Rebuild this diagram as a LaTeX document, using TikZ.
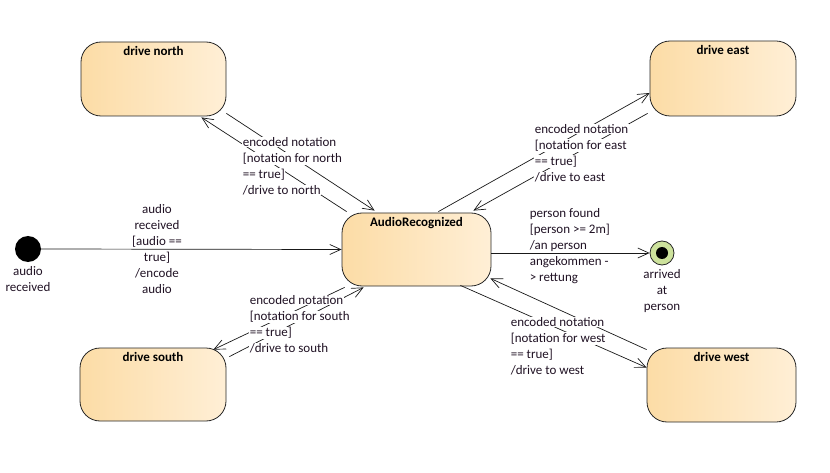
\documentclass[tikz,border=0pt]{standalone}
\usepackage{fontspec}
\setmainfont{Carlito}
\usetikzlibrary{arrows.meta}
\definecolor{stateL}{RGB}{252,220,166}
\definecolor{stateR}{RGB}{255,239,214}
\definecolor{finalfill}{RGB}{205,226,156}
\definecolor{ink}{RGB}{32,18,36}
% white backing behind each line of a transition text
\newcommand\wbox[1]{{\setlength\fboxsep{0.6pt}\colorbox{white}{#1}}}
\begin{document}
\begin{tikzpicture}[x=1pt,y=-1pt,
  txt/.style={font=\fontsize{13}{16}\selectfont, text=ink, inner sep=0},
  state/.style={draw=black!85, line width=0.8pt, rounded corners=20pt,
    left color=stateL, right color=stateR, inner sep=0},
  title/.style={anchor=base, font=\fontsize{13}{16}\selectfont\bfseries, inner sep=0},
  guard/.style={txt, align=left, anchor=west},
  trans/.style={draw=black!90, line width=0.7pt,
    -{Straight Barb[length=11pt,width=10pt]}}]
\useasboundingbox (0,0) rectangle (830,473);

% states
\node[state, minimum width=145pt, minimum height=74pt] (north) at (153.5,79) {};
\node[state, minimum width=146pt, minimum height=75pt] (east)  at (723,78.5) {};
\node[state, minimum width=149pt, minimum height=73pt] (ar)    at (416.5,249.5) {};
\node[state, minimum width=146pt, minimum height=73pt] (south) at (153,384.5) {};
\node[state, minimum width=149pt, minimum height=74pt] (west)  at (721.5,385) {};

\node[title] (tnorth) at ([yshift=-14pt]north.north) {drive north};
\node[title] (teast)  at ([yshift=-14pt]east.north)  {drive east};
\node[title] (tar)    at ([yshift=-14pt]ar.north)    {AudioRecognized};
\node[title] (tsouth) at ([yshift=-14pt]south.north) {drive south};
\node[title] (twest)  at ([yshift=-14pt]west.north)  {drive west};

% pseudo states
\node[circle, fill=black, minimum size=26pt, inner sep=0] (init) at (28,249) {};
\node[circle, draw=black!85, line width=0.8pt, fill=finalfill, minimum size=24pt, inner sep=0] (final) at (662,253) {};
\node[circle, fill=black, minimum size=12pt, inner sep=0] (finaldot) at (final.center) {};

\node[txt, align=center] (initlbl)  at (28,279)  {audio\\received};
\node[txt, align=center] (finallbl) at (662,291) {arrived\\at\\person};

% transitions
\draw[trans] (init.east) -- (ar.west);
\draw[trans] ([shift={(0,3.5)}]ar.east) -- (final.west);

\draw[trans] ([shift={(5,-1)}]ar.north west) -- ([shift={(-25,1)}]north.south east);
\draw[trans] ([shift={(0,-3)}]north.south east) -- ([shift={(33,-2)}]ar.north west);

\draw[trans] ([shift={(-53,-1)}]ar.north east) -- ([shift={(0,14.5)}]east.west);
\draw[trans] ([shift={(-2,-3)}]east.south west) -- ([shift={(-18,-2)}]ar.north east);

\draw[trans] ([shift={(3,1)}]ar.south west) -- ([shift={(-13,2)}]south.north east);
\draw[trans] ([shift={(3,9)}]south.north east) -- ([shift={(22,1)}]ar.south west);

\draw[trans] ([shift={(0,2)}]west.north west) -- ([shift={(-1,-8)}]ar.south east);
\draw[trans] ([shift={(-31,-1)}]ar.south east) -- ([shift={(0,20)}]west.north west);

% transition texts
\node[txt, align=center] (ginit) at (157,249.5)
  {\wbox{audio}\\\wbox{received}\\\wbox{[audio ==}\\\wbox{true]}\\\wbox{/encode}\\\wbox{audio}};
\node[guard] (gnorth) at (242,166)
  {\wbox{encoded notation}\\\wbox{[notation for north}\\\wbox{== true]}\\\wbox{/drive to north}};
\node[guard] (geast) at (534,153)
  {\wbox{encoded notation}\\\wbox{[notation for east}\\\wbox{== true]}\\\wbox{/drive to east}};
\node[guard] (gsouth) at (249,324.5)
  {\wbox{encoded notation}\\\wbox{[notation for south}\\\wbox{== true]}\\\wbox{/drive to south}};
\node[guard] (gwest) at (510,346)
  {\wbox{encoded notation}\\\wbox{[notation for west}\\\wbox{== true]}\\\wbox{/drive to west}};
\node[guard] (gfinal) at (529,246.5)
  {\wbox{person found}\\\wbox{[person >= 2m]}\\\wbox{/an person}\\\wbox{angekommen -}\\\wbox{> rettung}};
\end{tikzpicture}
\end{document}
